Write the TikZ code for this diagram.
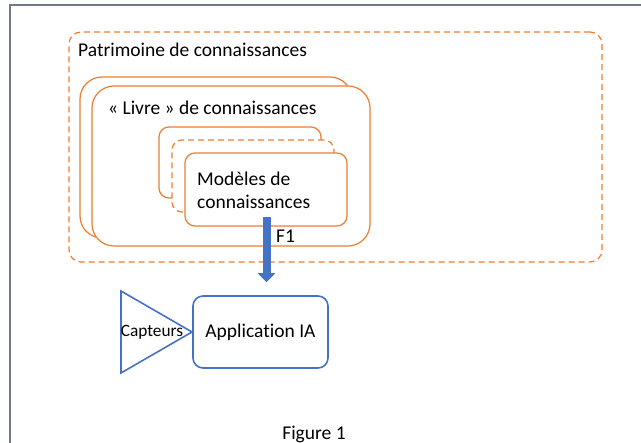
\documentclass[tikz,border=0pt]{standalone}
\usepackage{fontspec}
\setmainfont{Carlito}[Ligatures=NoCommon]
\usepackage{tikz}
\usetikzlibrary{arrows.meta,calc}
\usetikzlibrary{positioning}
\definecolor{offorange}{RGB}{237,125,49}
\definecolor{offblue}{RGB}{68,114,196}
\definecolor{framegray}{RGB}{110,122,140}
\tikzset{
    orangebox/.style={
           rectangle,
           draw=offorange, line width=1.2pt,
           fill=white,
           inner sep=0pt,
           },
    dashbox/.style={
           orangebox,
           dash pattern=on 6pt off 4pt,
           },
    bluebox/.style={
           rectangle,
           rounded corners=10pt,
           draw=offblue, line width=1.6pt,
           fill=white,
           inner sep=0pt,
           },
    txt/.style={font=\fontsize{19.5}{23}\selectfont, inner sep=0pt},
}
\begin{document}
\begin{tikzpicture}[x=1pt, y=-1pt]
\useasboundingbox (0,0) rectangle (641,443);
% frame
\draw[framegray, line width=2pt] (10,443) -- (10,5) -- (641,5);
% Patrimoine
\node[dashbox, rounded corners=12pt, minimum width=533pt, minimum height=230pt] (pat) at (335.5,147) {};
\node[txt, anchor=west] (pattxt) at (78,50) {Patrimoine de connaissances};
% Livres
\node[orangebox, rounded corners=22pt, minimum width=272pt, minimum height=161pt] (livreb) at (216,157.5) {};
\node[orangebox, rounded corners=22pt, minimum width=278pt, minimum height=160pt] (livre) at (231,166) {};
\node[txt, anchor=west] (livretxt) at (108,108) {« Livre » de connaissances};
% Modeles
\node[orangebox, rounded corners=10pt, minimum width=162pt, minimum height=71pt] (modb) at (240,162.5) {};
\node[dashbox, rounded corners=10pt, minimum width=162pt, minimum height=72pt] (modm) at (253,176) {};
\node[orangebox, rounded corners=10pt, minimum width=162pt, minimum height=73pt] (mod) at (266,189.5) {};
\node[txt, anchor=west, align=left] (modtxt) at (197,190) {Modèles de\\connaissances};
% application
\node[bluebox, minimum width=135pt, minimum height=72pt] (app) at (260.5,332) {};
\node[txt] (apptxt) at (260.5,332) {Application IA};
\draw[offblue, line width=1.6pt, line join=miter] (121,291) -- (121,373) -- (192,332) -- cycle;
\node[txt, font=\fontsize{17.3}{20}\selectfont] (capt) at (152,332) {Capteurs};
% F1
\coordinate (f1s) at (266.5,217);
\draw[offblue, line width=8pt, -{Triangle[width=17pt,length=9pt]}] (f1s) -- (f1s |- app.north) [shorten >=13pt];
\node[txt, anchor=west] (f1) at (276,236) {F1};
\node[txt] (fig) at (314,434) {Figure 1};
\end{tikzpicture}
\end{document}
